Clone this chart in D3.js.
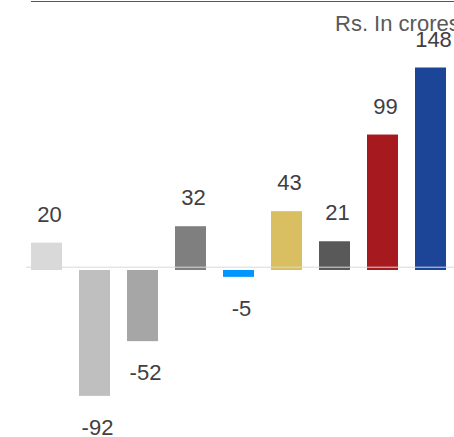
<!DOCTYPE html>
<html>
<head>
<meta charset="utf-8">
<script src="https://cdn.jsdelivr.net/npm/d3@7"></script>
<style>
  body { margin: 0; background: #fff; }
  svg { display: block; font-family: "Liberation Sans", Arial, sans-serif; }
</style>
</head>
<body>
<svg id="chart" width="454" height="437"></svg>
<script>
// chart data
var categories = ["A", "B", "C", "D", "E", "F", "G", "H", "I"];
var values = [20, -92, -52, 32, -5, 43, 21, 99, 148];
var colors = ["#d9d9d9", "#bfbfbf", "#a6a6a6", "#7f7f7f", "#0096ff", "#d9bf62", "#595959", "#a6191e", "#1c4597"];
var unitLabel = "Rs. In crores";

var svg = d3.select("#chart");

var x = d3.scaleBand()
    .domain(categories)
    .range([22.5, 454.5])
    .paddingInner(17 / 48)
    .paddingOuter(17 / 96);

var y = d3.scaleLinear()
    .domain([0, 148])
    .range([270, 67.5]);

// top rule
svg.append("line")
    .attr("x1", 31)
    .attr("x2", 454)
    .attr("y1", 1.5)
    .attr("y2", 1.5)
    .attr("stroke", "#555")
    .attr("stroke-width", 1.2);

svg.append("text")
    .attr("x", 335)
    .attr("y", 31)
    .attr("font-size", 22)
    .attr("fill", "#595959")
    .text(unitLabel);

var data = categories.map(function(c, i) {
    return { cat: c, value: values[i], color: colors[i] };
});

svg.append("g")
    .selectAll("rect")
    .data(data)
    .join("rect")
    .attr("x", function(d) { return x(d.cat); })
    .attr("width", x.bandwidth())
    .attr("y", function(d) { return Math.min(y(d.value), y(0)); })
    .attr("height", function(d) { return Math.abs(y(d.value) - y(0)); })
    .attr("fill", function(d) { return d.color; });

// zero line sits a little above the bar baseline
svg.append("line")
    .attr("x1", 26)
    .attr("x2", 454)
    .attr("y1", y(0) - 2.8)
    .attr("y2", y(0) - 2.8)
    .attr("stroke", "#d9d9d9")
    .attr("stroke-width", 1);

svg.append("g")
    .selectAll("text")
    .data(data)
    .join("text")
    .attr("x", function(d) { return x(d.cat) + x.bandwidth() / 2 + 3; })
    .attr("y", function(d) { return d.value >= 0 ? y(d.value) - 21 : y(d.value) + 39; })
    .attr("text-anchor", "middle")
    .attr("font-size", 22)
    .attr("fill", "#404040")
    .text(function(d) { return d.value; });
</script>
</body>
</html>
